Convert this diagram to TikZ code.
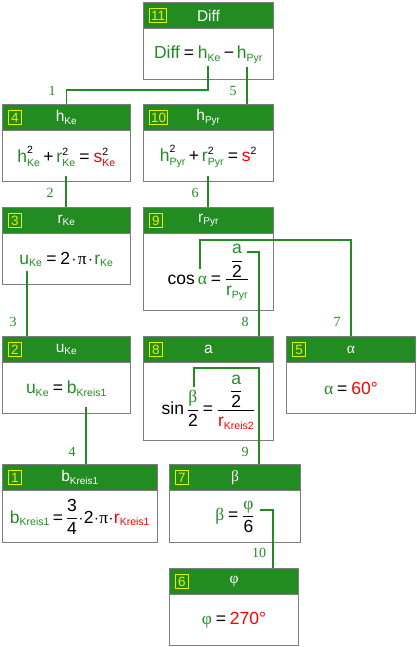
\documentclass[tikz,border=0pt]{standalone}
\usepackage{amsmath}
\usepackage{fontspec}
\setmainfont{Liberation Sans}
\newfontfamily\grk{Liberation Serif}
\newfontfamily\lblfont{Liberation Serif}
\usetikzlibrary{calc}
\DeclareMathSizes{17.5}{17.5}{10.5}{8}
\DeclareMathSizes{15.5}{15.5}{10}{7}
\medmuskip=3mu plus 1mu minus 1mu\relax
\thickmuskip=4mu plus 1mu\relax
\definecolor{kgreen}{RGB}{34,139,34}
\definecolor{kred}{RGB}{250,0,0}
\definecolor{kyel}{RGB}{225,240,0}
\definecolor{kgray}{RGB}{125,125,125}
\newcommand\G[1]{\text{\color{kgreen}#1}}
\newcommand\R[1]{\text{\color{kred}#1}}
\newcommand\T[1]{\text{#1}}
\newcommand\EQ{\mathrel{\text{=}}}
\newcommand\PL{\mathbin{\text{+}}}
\newcommand\MI{\mathbin{\text{−}}}
\newcommand\CD{\mathbin{\mkern-1.5mu\cdot\mkern-1.5mu}}
\newcommand\tight{\medmuskip=2mu\relax\thickmuskip=3mu\relax}
\newcommand\kbox[7]{%
  \node[kbody, minimum width=#4pt, minimum height=#5pt, anchor=north west] (#1) at (#2,#3) {};
  \node[khead, minimum width=#4pt, anchor=north west] (#1h) at (#2,#3) {};
  \node[kidx, anchor=west] (#1i) at ($(#1h.west)+(6,0)$) {#6};
  \node[ktitle] (#1t) at (#1h.center) {#7};
}
\begin{document}
\begin{tikzpicture}[x=1pt,y=-1pt,
  kbody/.style={draw=kgray, line width=1pt, fill=white, inner sep=0pt},
  khead/.style={draw=kgray, line width=1pt, fill=kgreen, inner sep=0pt, minimum height=26pt},
  kidx/.style={draw=kyel, line width=1pt, text=kyel, inner sep=1.5pt, minimum height=14pt, minimum width=13pt,
     text height=10pt, text depth=0pt, font=\fontsize{13.5}{15}\selectfont},
  ktitle/.style={text=white, inner sep=0pt, font=\fontsize{15.5}{18}\selectfont},
  kform/.style={inner sep=0pt, font=\fontsize{17.5}{20}\selectfont},
  conn/.style={draw=kgreen, line width=1.6pt},
  clabel/.style={text=kgreen, inner sep=0pt, font=\lblfont\fontsize{14}{16}\selectfont}]
\useasboundingbox (0,0) rectangle (416,647);

\kbox{b11}{143}{2}{130}{77}{11}{Diff}
\kbox{b4}{2}{104}{128}{77}{4}{$\T{h}_{\T{Ke}}$}
\kbox{b10}{143}{104}{130}{77}{10}{$\T{h}_{\T{Pyr}}$}
\kbox{b3}{2}{207}{128}{77}{3}{$\T{r}_{\T{Ke}}$}
\kbox{b9}{143}{207}{130}{103}{9}{$\T{r}_{\T{Pyr}}$}
\kbox{b2}{2}{336}{128}{77}{2}{$\T{u}_{\T{Ke}}$}
\kbox{b8}{143}{336}{130}{104}{8}{a}
\kbox{b5}{286}{336}{129}{77}{5}{{\grk α}}
\kbox{b1}{2}{464}{155}{78}{1}{$\T{b}_{\T{Kreis1}}$}
\kbox{b7}{169}{464}{131}{78}{7}{{\grk β}}
\kbox{b6}{169}{568}{129}{77}{6}{{\grk φ}}

\node[kform] (f11) at ($(b11h.south)!0.5!(b11.south)$)
  {$\G{Diff}\EQ\G{h}_{\G{Ke}}\MI\G{h}_{\G{Pyr}}$};
\node[kform] (f4) at ($(b4h.south)!0.5!(b4.south)$)
  {$\G{h}^{\T{2}}_{\G{Ke}}\PL\G{r}^{\T{2}}_{\G{Ke}}\EQ\R{s}^{\T{2}}_{\R{Ke}}$};
\node[kform] (f10) at ($(b10h.south)!0.5!(b10.south)$)
  {$\G{h}^{\T{2}}_{\G{Pyr}}\PL\G{r}^{\T{2}}_{\G{Pyr}}\EQ\R{s}^{\T{2}}$};
\node[kform] (f3) at ($(b3h.south)!0.5!(b3.south)$)
  {$\G{u}_{\G{Ke}}\EQ\T{2}\CD\T{\grk π}\CD\G{r}_{\G{Ke}}$};
\node[kform] (f9) at ($(b9h.south)!0.5!(b9.south)$)
  {$\T{cos}\,\G{\grk α}\EQ\dfrac{\dfrac{\G{a}}{\T{2}}}{\G{r}_{\G{Pyr}}}$};
\node[kform] (f2) at ($(b2h.south)!0.5!(b2.south)$)
  {$\G{u}_{\G{Ke}}\EQ\G{b}_{\G{Kreis1}}$};
\node[kform] (f8) at ($(b8h.south)!0.5!(b8.south)$)
  {$\T{sin}\,\dfrac{\G{\grk β}}{\T{2}}\EQ\dfrac{\dfrac{\G{a}}{\T{2}}}{\R{r}_{\R{Kreis2}}}$};
\node[kform] (f5) at ($(b5h.south)!0.5!(b5.south)$)
  {$\G{\grk α}\EQ\R{60°}$};
\node[kform] (f1) at ($(b1h.south)!0.5!(b1.south)$)
  {$\tight\G{b}_{\G{Kreis1}}\EQ\dfrac{\T{3}}{\T{4}}\CD\T{2}\CD\T{\grk π}\CD\R{r}_{\R{Kreis1}}$};
\node[kform] (f7) at ($(b7h.south)!0.5!(b7.south)$)
  {$\G{\grk β}\EQ\dfrac{\G{\grk φ}}{\T{6}}$};
\node[kform] (f6) at ($(b6h.south)!0.5!(b6.south)$)
  {$\G{\grk φ}\EQ\R{270°}$};

% connector start points
\coordinate (c1s) at (208,66);
\coordinate (c5s) at (247,67);
\coordinate (c2s) at (66,176);
\coordinate (c6s) at (208,176);
\coordinate (c3s) at (27,271);
\coordinate (c8s) at (247,252);
\coordinate (c7s) at (200,269);
\coordinate (c4s) at (86,407);
\coordinate (c9s) at (194,387);
\coordinate (c10s) at (260,510);

\draw[conn] (c1s) |- ($(b4.north)+(0,-14)$) -- (b4.north);
\draw[conn] (c5s) -- (c5s |- b10.north);
\draw[conn] (c2s) -- (c2s |- b3.north);
\draw[conn] (c6s) -- (c6s |- b9.north);
\draw[conn] (c3s) -- (c3s |- b2.north);
\draw[conn] (c8s) -| ($(b8.north west)+(116,0)$);
\draw[conn] (c7s) |- ($(b5.north)+(0,-96)$) -- (b5.north);
\draw[conn] (c4s) -- (c4s |- b1.north);
\draw[conn] (c9s) |- ($(b7.north west)+(90,-96)$) -- ($(b7.north west)+(90,0)$);
\draw[conn] (c10s) -| ($(b6.north west)+(104,0)$);

\node[clabel] (l1) at (52,91) {1};
\node[clabel] (l5) at (233,91) {5};
\node[clabel] (l2) at (50,193) {2};
\node[clabel] (l6) at (195,193) {6};
\node[clabel] (l3) at (13,322) {3};
\node[clabel] (l8) at (245,322) {8};
\node[clabel] (l7) at (337,322) {7};
\node[clabel] (l4) at (72,452) {4};
\node[clabel] (l9) at (245,452) {9};
\node[clabel] (l10) at (259,553) {10};
\end{tikzpicture}
\end{document}
